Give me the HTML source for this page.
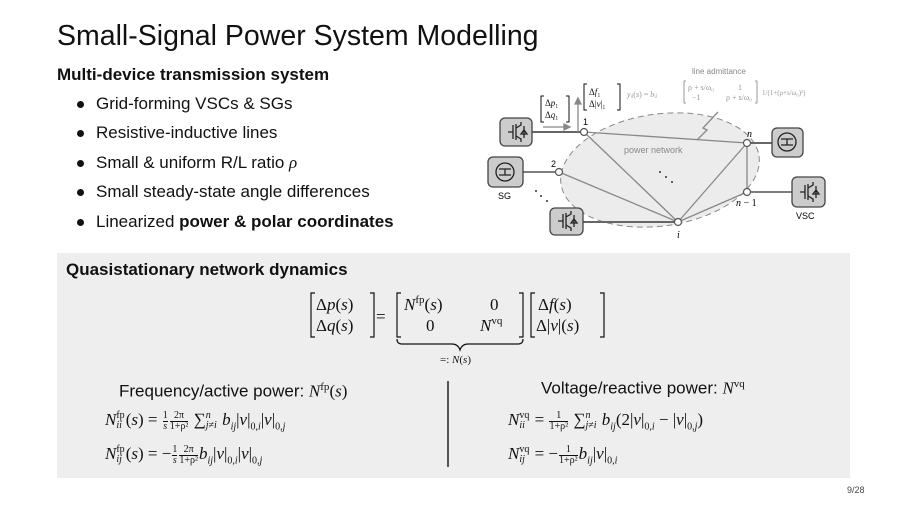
<!DOCTYPE html>
<html><head><meta charset="utf-8"><style>
*{margin:0;padding:0;box-sizing:border-box}
body{width:907px;height:510px;background:#fff;position:relative;overflow:hidden;font-family:"Liberation Sans",sans-serif;color:#111}
.a{position:absolute;white-space:nowrap}
.m{font-family:"Liberation Serif",serif}
.i{font-style:italic}
.fr{display:inline-block;vertical-align:middle;text-align:center;font-size:10px;line-height:10px;margin:0 1px}
.fr span{display:block}
.fr .n{border-bottom:1px solid #111}
.ss{display:inline-block;vertical-align:middle;font-size:10px;line-height:10px;text-align:left;margin-right:1px}
.ss span{display:block}
.bul{font-size:17px}
.dot{position:absolute;width:7px;height:7px;border-radius:50%;background:#111}
sub{font-size:10px}
</style></head><body>
<div class="a" style="left:57px;top:20px;font-size:28.5px">Small-Signal Power System Modelling</div>
<div class="a" style="left:57px;top:65px;font-size:17px;font-weight:bold">Multi-device transmission system</div>
<div class="dot" style="left:77px;top:101px"></div><div class="a bul" style="left:96px;top:94px">Grid-forming VSCs &amp; SGs</div>
<div class="dot" style="left:77px;top:130px"></div><div class="a bul" style="left:96px;top:123px">Resistive-inductive lines</div>
<div class="dot" style="left:77px;top:160px"></div><div class="a bul" style="left:96px;top:153px">Small &amp; uniform R/L ratio <span class="m i">ρ</span></div>
<div class="dot" style="left:77px;top:189px"></div><div class="a bul" style="left:96px;top:182px">Small steady-state angle differences</div>
<div class="dot" style="left:77px;top:219px"></div><div class="a bul" style="left:96px;top:212px">Linearized <b>power &amp; polar coordinates</b></div>

<svg class="a" style="left:0;top:0" width="907" height="260">
<ellipse cx="660" cy="170" rx="100" ry="56" fill="#ececec" stroke="#888" stroke-dasharray="6,4" transform="rotate(-8 660 170)"/>
<g stroke="#888" stroke-width="1.3" fill="none">
<line x1="584" y1="132" x2="747" y2="143"/><line x1="584" y1="132" x2="678" y2="222"/>
<line x1="559" y1="172" x2="678" y2="222"/><line x1="747" y1="143" x2="678" y2="222"/>
<line x1="747" y1="143" x2="747" y2="192"/><line x1="747" y1="192" x2="678" y2="222"/>
<line x1="532" y1="132" x2="584" y2="132" stroke="#666" stroke-width="2"/>
<line x1="523" y1="172" x2="559" y2="172" stroke="#333"/>
<line x1="583" y1="222" x2="678" y2="222" stroke="#666" stroke-width="2"/>
<line x1="747" y1="143" x2="772" y2="143" stroke="#666" stroke-width="2"/>
<line x1="747" y1="192" x2="792" y2="192" stroke="#333"/>
<line x1="578" y1="132" x2="578" y2="100"/><path d="M575 104 L578 98 L581 104Z" fill="#888"/>
<line x1="543" y1="127" x2="566" y2="127"/><path d="M564 124 L570 127 L564 130Z" fill="#888"/>
<path d="M718 112 L703 128 L707 130 L697 140"/>
</g>
<g fill="#fff" stroke="#555" stroke-width="1.2">
<circle cx="584" cy="132" r="3.5"/><circle cx="747" cy="143" r="3.5"/><circle cx="559" cy="172" r="3.5"/><circle cx="678" cy="222" r="3.5"/><circle cx="747" cy="192" r="3.5"/>
</g>
<g fill="#ccc" stroke="#444" stroke-width="1.3">
<rect x="500" y="118" width="32" height="28" rx="5"/><rect x="488" y="157" width="35" height="30" rx="5"/>
<rect x="550" y="208" width="33" height="27" rx="5"/><rect x="772" y="128" width="31" height="29" rx="5"/>
<rect x="792" y="177" width="33" height="30" rx="5"/>
</g>
<g stroke="#222" stroke-width="1.3" fill="none">
<path d="M508 132h5M513 125v14M516 124v16M516 128l5-3v-3M516 136l5 3v3M524 126v12M521 134h6l-3-4z"/>
<path d="M558 221h5M563 214v14M566 213v16M566 217l5-3v-3M566 225l5 3v3M574 215v12M571 223h6l-3-4z"/>
<path d="M800 192h5M805 185v14M808 184v16M808 188l5-3v-3M808 196l5 3v3M816 186v12M813 194h6l-3-4z"/>
<circle cx="505" cy="172" r="9"/><path d="M499 169h12M505 169v6M499 175h12" />
<circle cx="787" cy="142" r="9"/><path d="M781 139h12M787 139v6M781 145h12"/>
</g>
<g fill="#333"><circle cx="536" cy="191" r="1"/><circle cx="541" cy="196" r="1"/><circle cx="547" cy="201" r="1"/>
<circle cx="660" cy="172" r="1"/><circle cx="666" cy="177" r="1"/><circle cx="672" cy="182" r="1"/></g>
<text x="583" y="125" font-size="9" font-family="Liberation Sans">1</text>
<text x="551" y="167" font-size="9" font-family="Liberation Sans">2</text>
<text x="747" y="137" font-size="10" font-family="Liberation Serif" font-style="italic">n</text>
<text x="736" y="206" font-size="10" font-family="Liberation Serif"><tspan font-style="italic">n</tspan> − 1</text>
<text x="677" y="238" font-size="10" font-family="Liberation Serif" font-style="italic">i</text>
<text x="498" y="199" font-size="9" font-family="Liberation Sans">SG</text>
<text x="796" y="219" font-size="9" font-family="Liberation Sans">VSC</text>
<text x="624" y="153" font-size="9" fill="#888" font-family="Liberation Sans">power network</text>
<text x="692" y="74" font-size="8" fill="#888" font-family="Liberation Sans">line admittance</text>
<g font-family="Liberation Serif" font-size="9" fill="#111">
<path d="M544 96h-3v26h3M566 96h3v26h-3" stroke="#111" fill="none"/>
<text x="545" y="106">Δ<tspan font-style="italic">p</tspan>₁</text><text x="545" y="118">Δ<tspan font-style="italic">q</tspan>₁</text>
<path d="M587 84h-3v26h3M617 84h3v26h-3" stroke="#111" fill="none"/>
<text x="589" y="95">Δ<tspan font-style="italic">f</tspan>₁</text><text x="589" y="107">Δ|<tspan font-style="italic">v</tspan>|₁</text>
</g>
<g font-family="Liberation Serif" font-size="8" fill="#999">
<text x="627" y="97"><tspan font-style="italic">y</tspan>ᵢⱼ(<tspan font-style="italic">s</tspan>) = <tspan font-style="italic">b</tspan>ᵢⱼ</text>
<path d="M686 81h-2v22h2M755 81h2v22h-2" stroke="#999" fill="none"/>
<text x="688" y="90">ρ + s/ω₀</text><text x="738" y="90">1</text>
<text x="692" y="100">−1</text><text x="726" y="100">ρ + s/ω₀</text>
<text x="762" y="95" font-size="7">1/(1+(ρ+s/ω₀)²)</text>
</g>
</svg>

<div class="a" style="left:57px;top:253px;width:793px;height:225px;background:#eeeeee"></div>
<div class="a" style="left:66px;top:260px;font-size:17px;font-weight:bold">Quasistationary network dynamics</div>

<svg class="a" style="left:300px;top:285px" width="320" height="85">
<g stroke="#111" stroke-width="1.2" fill="none">
<path d="M15 8h-4v44h4M70 8h4v44h-4"/>
<path d="M101 8h-4v44h4M219 8h4v44h-4"/>
<path d="M235 8h-4v44h4M300 8h4v44h-4"/>
<path d="M97 54q0 5 5 5h50q6 0 8 6q2-6 8-6h50q5 0 5-5"/>
</g>
<g font-family="Liberation Serif" font-size="17" fill="#111">
<text x="16" y="25">Δ<tspan font-style="italic">p</tspan>(<tspan font-style="italic">s</tspan>)</text>
<text x="16" y="46">Δ<tspan font-style="italic">q</tspan>(<tspan font-style="italic">s</tspan>)</text>
<text x="76" y="37">=</text>
<text x="104" y="25"><tspan font-style="italic">N</tspan><tspan font-size="11" dy="-7">fp</tspan><tspan dy="7">(</tspan><tspan font-style="italic">s</tspan>)</text>
<text x="190" y="25">0</text>
<text x="126" y="46">0</text>
<text x="180" y="46"><tspan font-style="italic">N</tspan><tspan font-size="11" dy="-7">vq</tspan></text>
<text x="238" y="25">Δ<tspan font-style="italic">f</tspan>(<tspan font-style="italic">s</tspan>)</text>
<text x="236" y="46">Δ|<tspan font-style="italic">v</tspan>|(<tspan font-style="italic">s</tspan>)</text>
<text x="140" y="78" font-size="11">=: <tspan font-style="italic">N</tspan>(<tspan font-style="italic">s</tspan>)</text>
</g>
</svg>

<div class="a" style="left:119px;top:381px;font-size:17px">Frequency/active power: <span class="m i">N</span><sup class="m" style="font-size:11px">fp</sup><span class="m">(<i>s</i>)</span></div>
<div class="a m" style="left:105px;top:410px;font-size:17px"><i>N</i><span class="ss"><span>fp</span><span><i>ii</i></span></span>(<i>s</i>) = <span class="fr"><span class="n">1</span><span><i>s</i></span></span><span class="fr"><span class="n">2π</span><span>1+ρ²</span></span> ∑<span class="ss"><span><i>n</i></span><span><i>j</i>≠<i>i</i></span></span> <i>b<sub>ij</sub></i>|<i>v</i>|<sub>0,<i>i</i></sub>|<i>v</i>|<sub>0,<i>j</i></sub></div>
<div class="a m" style="left:105px;top:444px;font-size:17px"><i>N</i><span class="ss"><span>fp</span><span><i>ij</i></span></span>(<i>s</i>) = −<span class="fr"><span class="n">1</span><span><i>s</i></span></span><span class="fr"><span class="n">2π</span><span>1+ρ²</span></span><i>b<sub>ij</sub></i>|<i>v</i>|<sub>0,<i>i</i></sub>|<i>v</i>|<sub>0,<i>j</i></sub></div>
<div class="a" style="left:447px;top:381px;width:2px;height:86px;background:#555"></div>
<div class="a" style="left:541px;top:378px;font-size:17px">Voltage/reactive power: <span class="m i">N</span><sup class="m" style="font-size:11px">vq</sup></div>
<div class="a m" style="left:508px;top:410px;font-size:17px"><i>N</i><span class="ss"><span>vq</span><span><i>ii</i></span></span> = <span class="fr"><span class="n">1</span><span>1+ρ²</span></span> ∑<span class="ss"><span><i>n</i></span><span><i>j</i>≠<i>i</i></span></span> <i>b<sub>ij</sub></i>(2|<i>v</i>|<sub>0,<i>i</i></sub> − |<i>v</i>|<sub>0,<i>j</i></sub>)</div>
<div class="a m" style="left:508px;top:444px;font-size:17px"><i>N</i><span class="ss"><span>vq</span><span><i>ij</i></span></span> = −<span class="fr"><span class="n">1</span><span>1+ρ²</span></span><i>b<sub>ij</sub></i>|<i>v</i>|<sub>0,<i>i</i></sub></div>
<div class="a" style="left:847px;top:485px;font-size:9px;color:#444">9/28</div>
</body></html>
